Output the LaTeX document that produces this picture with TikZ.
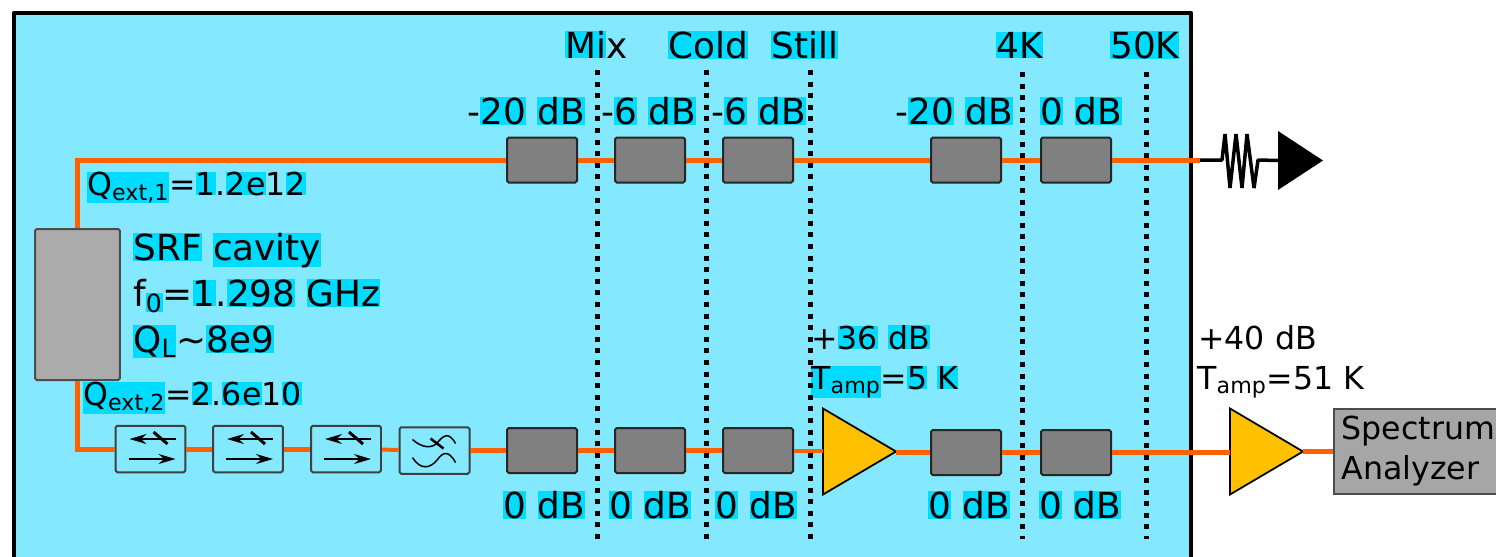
\documentclass[tikz,border=0pt]{standalone}
\usepackage{xcolor}
\usepackage{fontspec}
\setmainfont{DejaVu Sans}
\usetikzlibrary{arrows.meta,shapes.geometric}

\definecolor{coldbg}{HTML}{84E8FF}
\definecolor{hlcyan}{HTML}{00DCFF}
\definecolor{wireorange}{HTML}{FF6000}
\definecolor{ampyellow}{HTML}{FFC000}
\setlength{\fboxsep}{0pt}
\newcommand{\hlt}[1]{\colorbox{hlcyan}{#1}}
\newcommand{\lowtxt}[1]{\textsubscript{#1}}

\begin{document}
\begin{tikzpicture}[
  x=0.02cm, y=-0.02cm,
  >=Stealth,
  wire/.style={draw=wireorange, line width=0.1cm},
  thinwire/.style={draw=wireorange, line width=0.08cm},
  att/.style={draw=black!85, fill=black!50, line width=0.04cm, rounded corners=1pt,
    minimum width=1.4cm, minimum height=0.9cm, inner sep=0pt},
  iso/.style={draw=black!75, line width=0.04cm, rounded corners=1pt,
    minimum width=1.4cm, minimum height=0.93cm, inner sep=0pt},
  amp/.style={isosceles triangle, isosceles triangle stretches, draw=black, fill=ampyellow,
    line width=0.035cm, minimum width=1.72cm, minimum height=1.46cm, inner sep=0pt, outer sep=0pt},
  big/.style={anchor=base west, inner sep=0pt, font=\fontsize{20.4}{24}\selectfont},
  small/.style={anchor=base west, inner sep=0pt, font=\fontsize{18}{22}\selectfont},
  stage/.style={line width=0.1cm, dash pattern=on 0.1cm off 0.132cm}
]
\useasboundingbox (0,0) rectangle (1496,556);
\clip (0,0) rectangle (1496,556);
% cold part
\fill[coldbg] (14,13) rectangle (1191,560);
\draw[line width=0.09cm, line join=round] (14,560) -- (14,13) -- (1191,13) -- (1191,560);

% components
\node[draw=black!70, fill=black!33, line width=0.04cm, rounded corners=1pt,
  minimum width=1.7cm, minimum height=3.02cm, inner sep=0pt] (cav) at (77.5,304.5) {};
\node[att] (a1) at (542,160) {};
\node[att] (a2) at (650,160) {};
\node[att] (a3) at (758,160) {};
\node[att] (a4) at (966,160) {};
\node[att] (a5) at (1076,160) {};
\node[iso] (iso1) at (150.5,449) {};
\node[iso] (iso2) at (248,449) {};
\node[iso] (iso3) at (346,449) {};
\node[iso] (flt) at (434.5,450.5) {};
\node[att] (a6) at (542,450.5) {};
\node[att] (a7) at (650,450.5) {};
\node[att] (a8) at (758,450.5) {};
\node[amp, anchor=lower side] (amp1) at (823,451.5) {};
\node[att] (a9) at (966,452.5) {};
\node[att] (a10) at (1076,452.5) {};
\node[amp, anchor=lower side] (amp2) at (1230,451.5) {};
\node[draw=black!70, fill=black!35, line width=0.03cm, anchor=west, inner xsep=0.16cm, inner ysep=0pt,
  text width=3.4cm, minimum height=1.7cm, align=left,
  font=\fontsize{18}{22.8}\selectfont] (sa) at (1333,451.5) {Spectrum\\Analyzer};
\node[fill=black, isosceles triangle, isosceles triangle stretches, inner sep=0pt, outer sep=0pt,
  minimum width=1.18cm, minimum height=0.9cm, anchor=lower side] (term) at (1278,160.5) {};
\coordinate (rin) at (1200,160);

% isolators
\foreach \n in {iso1,iso2,iso3} {
  \begin{scope}[shift={(\n)}]
    \draw[line width=0.03cm, <-, >={Stealth[length=0.34cm,width=0.2cm]}] (-21,-10) -- (25,-10);
    \draw[line width=0.06cm] (3,-17) -- (17,-5);
    \draw[line width=0.03cm, ->, >={Stealth[length=0.34cm,width=0.2cm]}] (-22,10) -- (25,10);
  \end{scope}
}
% filter
\begin{scope}[shift={(flt)}]
  \draw[line width=0.03cm] (-22,-11) .. controls (-12,-2) and (-2,-2) .. (3,-8) .. controls (8,-14) and (14,-20) .. (21,-7);
  \draw[line width=0.03cm] (-22,7) .. controls (-14,20) and (-4,18) .. (3,9) .. controls (8,2) and (14,-1) .. (21,12);
  \draw[line width=0.05cm] (-4,-12) -- (9,-2);
\end{scope}

% wires
\draw[wire] (cav) |- (a1);
\draw[wire] (cav) |- (iso1);
\path[wire]
  (a1) edge (a2)
  (a2) edge (a3)
  (a3) edge (a4)
  (a4) edge (a5)
  (a5) edge (rin)
  (iso1) edge (iso2)
  (iso2) edge (iso3)
  (flt) edge (a6)
  (a6) edge (a7)
  (a7) edge (a8)
  (a9 -| amp1.apex) edge (a9)
  (a9) edge (a10)
  (amp2.apex) edge (amp2.apex -| sa.west);
\draw[thinwire] (iso3) -- (flt);
\draw[thinwire] (a8) -- (a8 -| amp1.lower side);
\draw[wire] (a10) -- (a10 -| amp2.lower side);
\draw[line width=0.07cm, line join=bevel] (rin) -- (1222,160) -- (1225,134) -- (1230,188) -- (1236,134)
  -- (1242,188) -- (1247,134) -- (1254,188) -- (1258,160) -- (term.lower side);

% labels
\node[big] (mix) at (565,58) {\hlt{Mi}x};
\node[big] (cold) at (668,58) {\hlt{Cold}};
\node[big] (still) at (771,58) {\hlt{Still}};
\node[big] (fourk) at (996,58) {\hlt{4K}};
\node[big] (fiftyk) at (1110,58) {\hlt{50K}};
\node[big] (la1) at (467,124) {-\hlt{20} \hlt{dB}};
\node[big] (la2) at (601,124) {-\hlt{6} \hlt{dB}};
\node[big] (la3) at (711,124) {-\hlt{6} \hlt{dB}};
\node[big] (la4) at (895,124) {-\hlt{20} \hlt{dB}};
\node[big] (la5) at (1040,124) {\hlt{0} \hlt{dB}};
\node[big] (la6) at (503,518) {\hlt{0} \hlt{dB}};
\node[big] (la7) at (609,518) {\hlt{0} \hlt{dB}};
\node[big] (la8) at (715,518) {\hlt{0} \hlt{dB}};
\node[big] (la9) at (928,518) {\hlt{0} \hlt{dB}};
\node[big] (la10) at (1039,518) {\hlt{0} \hlt{dB}};
\node[small] (qone) at (87,195) {\hlt{Q\lowtxt{ext,1}}=\hlt{1}.\hlt{2e}1\hlt{2}};
\node[small] (qtwo) at (83,405) {\hlt{Q\lowtxt{ext,2}}=\hlt{2}.\hlt{6e}1\hlt{0}};
\node[big] (srf) at (133,260) {\hlt{SRF} \hlt{cavity}};
\node[big] (fnot) at (133,306) {f\hlt{\lowtxt{0}}=\hlt{1}.\hlt{298} \hlt{GHz}};
\node[big] (ql) at (133,352) {\hlt{Q\lowtxt{L}}\textasciitilde\hlt{8e9}};
\node[small] (gone) at (811,349) {+\hlt{36} \hlt{dB}};
\node[small] (tone) at (811,389) {\hlt{T\lowtxt{amp}}=\hlt{5} \hlt{K}};
\node[small] (gtwo) at (1198,349) {+40 dB};
\node[small] (ttwo) at (1197,389) {T\lowtxt{amp}=51 K};

% stage boundaries
\foreach \s/\x/\t in {mix/597/70,cold/706/70,still/810/70,four/1022/72,fifty/1146/72} {
  \coordinate (\s top) at (\x,\t);
  \coordinate (\s bot) at (\x,539);
  \draw[stage] (\s top) -- (\s bot);
}
\end{tikzpicture}
\end{document}
